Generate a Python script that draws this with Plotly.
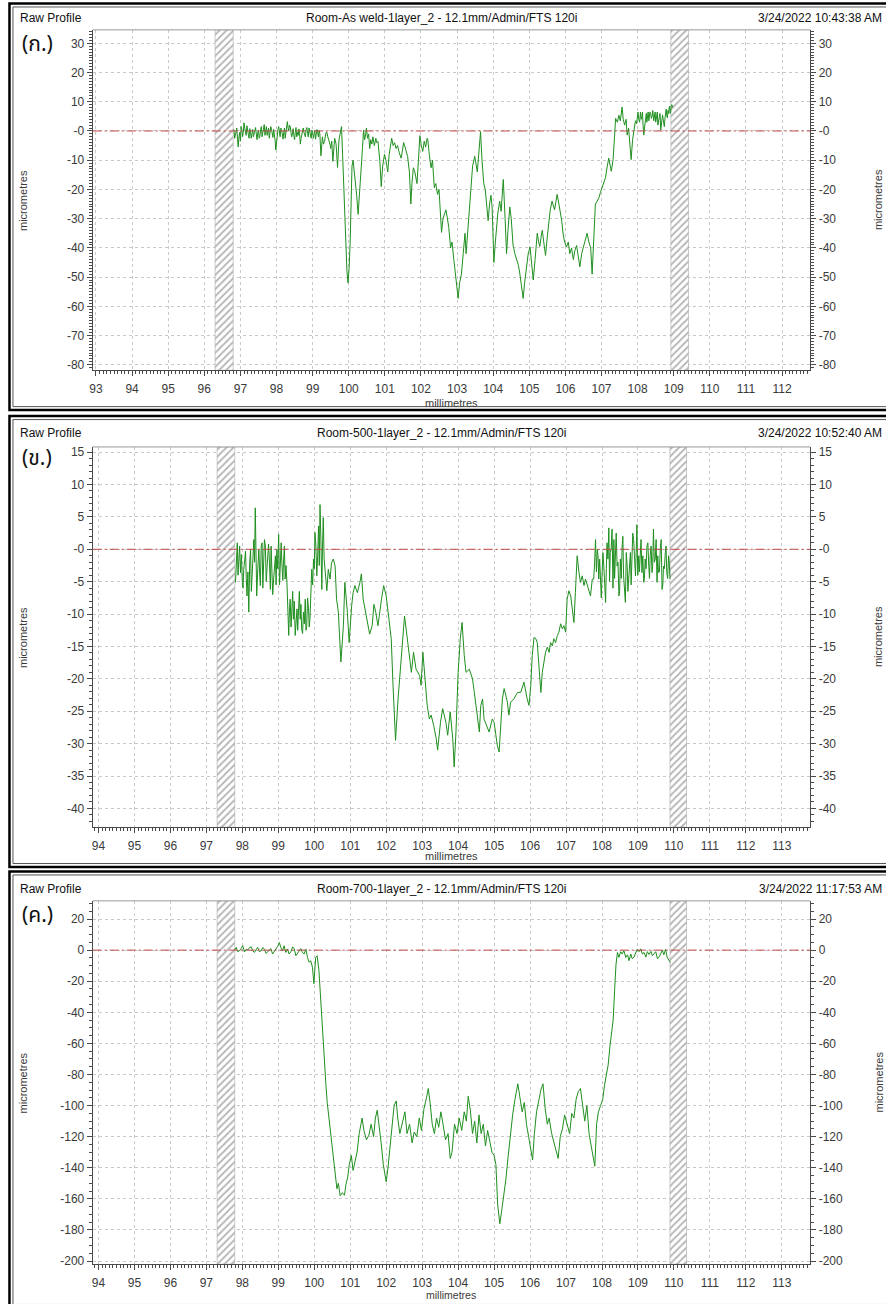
import plotly.graph_objects as go

W, H = 886, 1304

# ---------------- profile data: position (mm) and height (micrometres) ----------------
p1_x = [96.82, 96.86, 96.90, 96.94, 96.98, 97.02, 97.06, 97.10, 97.14, 97.18, 97.22, 97.26, 97.30, 97.34,
        97.38, 97.42, 97.46, 97.50, 97.54, 97.58, 97.62, 97.66, 97.70, 97.74, 97.78, 97.82, 97.86, 97.90,
        97.94, 97.98, 98.02, 98.06, 98.10, 98.14, 98.18, 98.22, 98.26, 98.30, 98.34, 98.38, 98.42, 98.46,
        98.50, 98.54, 98.58, 98.62, 98.66, 98.70, 98.74, 98.78, 98.82, 98.86, 98.90, 98.94, 98.98, 99.02,
        99.06, 99.10, 99.14, 99.18, 99.23, 99.27, 99.30, 99.33, 99.36, 99.39, 99.42, 99.45, 99.48, 99.50,
        99.53, 99.56, 99.61, 99.65, 99.69, 99.73, 99.76, 99.80, 99.83, 99.86, 99.89, 99.92, 99.95, 99.98,
        100.01, 100.04, 100.07, 100.09, 100.12, 100.15, 100.18, 100.22, 100.26, 100.30, 100.35, 100.38,
        100.41, 100.44, 100.47, 100.49, 100.52, 100.55, 100.58, 100.61, 100.64, 100.67, 100.71, 100.75,
        100.78, 100.81, 100.86, 100.90, 100.94, 100.99, 101.03, 101.08, 101.12, 101.16, 101.19, 101.23,
        101.27, 101.31, 101.35, 101.40, 101.45, 101.49, 101.52, 101.56, 101.60, 101.63, 101.68, 101.72,
        101.75, 101.79, 101.83, 101.86, 101.89, 101.93, 101.97, 102.01, 102.05, 102.09, 102.13, 102.17,
        102.19, 102.23, 102.28, 102.32, 102.37, 102.41, 102.46, 102.50, 102.54, 102.57, 102.61, 102.65,
        102.69, 102.73, 102.77, 102.82, 102.86, 102.91, 102.94, 102.98, 103.03, 103.07, 103.12, 103.17,
        103.22, 103.25, 103.30, 103.35, 103.39, 103.43, 103.49, 103.53, 103.56, 103.60, 103.65, 103.69,
        103.74, 103.78, 103.82, 103.86, 103.90, 103.94, 103.97, 104.02, 104.06, 104.09, 104.13, 104.18,
        104.22, 104.25, 104.28, 104.33, 104.37, 104.41, 104.46, 104.50, 104.55, 104.60, 104.65, 104.70,
        104.74, 104.79, 104.83, 104.87, 104.92, 104.97, 105.02, 105.06, 105.11, 105.16, 105.22, 105.26,
        105.29, 105.33, 105.36, 105.40, 105.45, 105.50, 105.54, 105.58, 105.63, 105.67, 105.70, 105.74,
        105.77, 105.82, 105.87, 105.90, 105.94, 105.98, 106.03, 106.08, 106.12, 106.17, 106.22, 106.26,
        106.31, 106.36, 106.40, 106.45, 106.49, 106.54, 106.60, 106.65, 106.70, 106.74, 106.78, 106.83,
        106.88, 106.93, 106.97, 107.02, 107.06, 107.11, 107.16, 107.20, 107.27, 107.32, 107.36, 107.39,
        107.44, 107.48, 107.52, 107.57, 107.60, 107.64, 107.68, 107.71, 107.75, 107.79, 107.82, 107.86,
        107.90, 107.94, 107.99, 108.03, 108.08, 108.12, 108.15, 108.17, 108.21, 108.24, 108.27, 108.31,
        108.34, 108.38, 108.42, 108.47, 108.50, 108.53, 108.56, 108.60, 108.64, 108.67, 108.71, 108.74,
        108.77, 108.81, 108.84, 108.87, 108.90, 108.93, 108.97]
p1_y = [0.5, -1.5, 1.0, -5.5, -0.5, 1.5, -2.0, 2.8, 0.0, 1.8, -1.2, 0.8, -2.5, 0.5,
        -1.0, 1.2, -3.0, 0.2, -1.8, 1.5, -0.8, 2.2, 0.4, -1.5, 1.0, -0.5, 0.8, -2.2,
        -1.0, -6.5, -1.0, 1.5, -2.0, 0.5, -2.8, 1.0, -0.6, 3.2, 0.0, 1.5, -2.0, 0.8,
        -3.0, 1.2, -0.5, 0.7, -4.5, -1.0, 1.0, -1.5, 0.5, -0.8, 1.0, -1.2, 0.3, -2.5,
        0.2, -1.5, -0.5, 0.2, -8.5, -2.0, -4.5, -3.6, -1.0, -0.3, -2.0, -3.0, -4.5, -6.0,
        -3.5, -10.4, -2.5, -4.5, -12.5, -3.0, -1.0, 1.5, -8.0, -20.0, -30.0, -38.0, -48.0, -52.0,
        -47.0, -38.0, -20.0, -12.0, -10.0, -13.0, -16.0, -22.0, -28.5, -22.0, -12.6, -6.0,
        0.3, -3.0, -1.0, 1.0, -2.5, -1.0, -6.0, -3.0, -4.5, -2.0, -5.0, -2.5,
        -4.0, -3.6, -10.0, -19.0, -12.0, -8.0, -10.0, -14.0, -8.0, -4.0, -2.5, -5.0,
        -4.0, -6.0, -5.0, -7.5, -9.3, -6.5, -4.0, -5.5, -7.0, -8.7, -14.0, -25.0,
        -18.0, -12.6, -14.0, -16.0, -18.0, -10.0, -1.6, -5.0, -7.0, -3.5, -5.5, -2.5,
        -3.0, -8.0, -12.6, -10.0, -19.4, -18.0, -21.7, -20.0, -28.0, -34.7, -30.0, -28.0,
        -27.0, -29.7, -33.0, -40.0, -38.0, -44.0, -48.0, -53.0, -57.3, -52.0, -49.0, -42.0,
        -35.0, -42.0, -34.0, -25.4, -18.0, -12.0, -8.7, -12.0, -14.0, -8.0, -0.2, -10.0,
        -18.0, -20.0, -26.0, -30.7, -25.0, -22.0, -26.0, -45.0, -38.0, -32.0, -28.0, -24.0,
        -27.5, -22.0, -16.6, -30.0, -42.0, -34.0, -26.0, -30.0, -39.0, -42.0, -44.0, -46.0,
        -49.0, -53.0, -57.3, -52.0, -46.5, -42.0, -39.7, -44.0, -51.0, -44.0, -35.0, -38.0,
        -39.5, -36.0, -34.0, -38.0, -42.6, -36.0, -30.7, -27.0, -24.0, -26.0, -27.0, -24.0,
        -21.7, -25.0, -28.5, -31.0, -35.6, -38.0, -39.7, -38.0, -42.0, -40.0, -44.0, -41.0,
        -39.2, -43.0, -46.5, -42.0, -40.0, -37.0, -35.0, -38.0, -40.0, -49.0, -38.0, -25.0,
        -24.0, -22.8, -21.0, -19.4, -18.0, -16.0, -12.0, -9.3, -13.8, -9.8, -2.0, 4.3,
        3.0, 5.4, 3.5, 8.2, 4.0, 2.0, 4.0, -1.4, 1.0, -4.7, -9.8, -3.0,
        0.9, 3.5, 5.4, 4.0, 6.5, 5.0, 2.0, -1.4, 3.0, 6.0, 5.4, 3.5,
        6.5, 4.3, 7.0, 6.0, 3.0, 5.5, 2.0, 4.5, 0.3, 2.5, 3.7, 1.5,
        6.5, 5.0, 7.0, 7.7, 6.0, 8.8, 8.0]
# additional fine-pitch samples on the flat and raised sections
p1_fine_x = [96.84, 96.88, 96.92, 96.96, 97.00, 97.04, 97.08, 97.12, 97.16, 97.20, 97.24, 97.28, 97.32,
             97.36, 97.40, 97.44, 97.48, 97.52, 97.56, 97.60, 97.64, 97.68, 97.72, 97.76, 97.80, 97.84,
             97.88, 97.92, 97.96, 98.00, 98.04, 98.08, 98.12, 98.16, 98.20, 98.24, 98.28, 98.32, 98.36,
             98.40, 98.44, 98.48, 98.52, 98.56, 98.60, 98.64, 98.68, 98.72, 98.76, 98.80, 98.84, 98.88,
             98.92, 98.96, 99.00, 99.04, 99.08, 99.12, 99.16, 99.20,
             107.92, 107.97, 108.01, 108.055, 108.10, 108.135, 108.19, 108.225, 108.255, 108.29, 108.325,
             108.36, 108.40, 108.445, 108.485, 108.515, 108.545, 108.58, 108.62, 108.655, 108.69, 108.725,
             108.755, 108.79, 108.825, 108.855, 108.885, 108.915, 108.95]
p1_fine_y = [-2.5, -0.5, -3.0, -2.0, -3.5, 0.5, -0.5, 1.0, -1.5, 0.8, -2.5, -0.5, -1.0,
             -2.0, 0.5, -1.0, -0.5, -2.5, 0.5, -2.0, 0.5, -1.5, 1.5, -0.5, -2.5, 1.5,
             -1.0, 0.5, -3.0, -3.5, 0.5, -1.0, 1.0, -1.0, -0.5, -2.5, 1.5, 1.0, 2.0,
             -0.5, -1.0, -1.5, -0.5, -2.0, -1.5, -1.0, -2.5, 0.5, -0.5, -2.0, 1.2, -2.0,
             -0.5, -2.5, -0.5, -1.0, -2.8, 0.5, -2.0, -1.0,
             1.5, 2.5, 6.5, 3.0, 4.0, 6.5, 1.0, 4.0, 3.0, 6.5, 4.5,
             6.0, 5.0, 3.5, 6.5, 4.0, 6.5, 3.0, 6.0, 2.0, 5.5, 2.5,
             4.0, 7.5, 4.5, 6.0, 8.5, 6.5, 9.0]

p2_x = [97.81, 97.86, 97.90, 97.95, 98.00, 98.04, 98.09, 98.13, 98.18, 98.23, 98.27, 98.32, 98.36, 98.40,
        98.46, 98.50, 98.55, 98.59, 98.64, 98.69, 98.73, 98.78, 98.82, 98.87, 98.92, 98.96, 99.01, 99.06,
        99.10, 99.15, 99.19, 99.24, 99.29, 99.33, 99.38, 99.42, 99.47, 99.52, 99.56, 99.61, 99.65, 99.70,
        99.75, 99.79, 99.84, 99.88, 99.93, 99.98, 100.02, 100.07, 100.12, 100.16, 100.21, 100.25, 100.30,
        100.35, 100.39, 100.44, 100.48, 100.53, 100.58, 100.62, 100.67, 100.71, 100.74, 100.81, 100.85,
        100.92, 100.97, 101.04, 101.08, 101.13, 101.20, 101.27, 101.31, 101.36, 101.41, 101.48, 101.54,
        101.61, 101.66, 101.71, 101.77, 101.87, 101.93, 102.00, 102.05, 102.10, 102.14, 102.19, 102.24,
        102.26, 102.33, 102.42, 102.51, 102.60, 102.70, 102.76, 102.83, 102.93, 102.97, 103.02, 103.06,
        103.14, 103.20, 103.25, 103.32, 103.39, 103.43, 103.51, 103.57, 103.66, 103.71, 103.78, 103.85,
        103.89, 103.94, 104.00, 104.06, 104.11, 104.17, 104.22, 104.31, 104.40, 104.45, 104.54, 104.59,
        104.63, 104.68, 104.72, 104.82, 104.86, 104.95, 105.00, 105.05, 105.09, 105.14, 105.18, 105.23,
        105.28, 105.37, 105.41, 105.46, 105.55, 105.65, 105.74, 105.83, 105.92, 105.97, 106.02, 106.06,
        106.11, 106.16, 106.20, 106.25, 106.30, 106.34, 106.39, 106.43, 106.48, 106.53, 106.57, 106.62,
        106.66, 106.71, 106.76, 106.80, 106.85, 106.90, 106.94, 106.99, 107.03, 107.08, 107.13, 107.17,
        107.22, 107.26, 107.31, 107.36, 107.40, 107.45, 107.50, 107.54, 107.59, 107.63, 107.68, 107.73,
        107.77, 107.82, 107.87, 107.91, 107.96, 108.00, 108.05, 108.10, 108.14, 108.19, 108.23, 108.28,
        108.33, 108.37, 108.42, 108.47, 108.51, 108.56, 108.60, 108.65, 108.70, 108.74, 108.79, 108.83,
        108.88, 108.93, 108.97, 109.02, 109.06, 109.11, 109.16, 109.20, 109.25, 109.30, 109.34, 109.39,
        109.43, 109.48, 109.53, 109.57, 109.62, 109.67, 109.71, 109.76, 109.80, 109.85, 109.89]
p2_y = [-5.1, 1.0, -2.6, -3.6, -5.1, -3.1, -0.3, -7.2, -9.7, 0.0, -3.1, 1.5, 6.4, -7.2,
        0.0, -5.6, 1.0, -3.6, 0.5, -2.6, 0.8, -6.2, -3.6, -4.6, -1.0, 0.0, 2.3, -1.0,
        -2.1, -1.5, -4.6, -5.1, -13.3, -7.7, -8.7, -10.8, -13.3, -9.2, -7.9, -10.8, -12.3, -9.7,
        -7.7, -11.8, -9.2, -10.8, -3.1, -1.5, 2.6, -4.1, 3.6, 6.9, -6.2, 4.9, -3.6,
        -6.4, -3.1, -4.6, -2.1, -1.5, -2.6, -7.7, -9.7, -13.8, -17.4, -11.8, -5.1,
        -9.7, -14.4, -8.7, -6.7, -5.6, -6.7, -5.1, -3.8, -7.7, -9.2, -10.8, -13.1,
        -11.8, -8.5, -9.7, -11.8, -7.7, -5.6, -7.2, -9.7, -11.8, -13.8, -21.0, -26.7,
        -29.5, -23.1, -15.9, -10.3, -14.4, -19.0, -15.9, -18.5, -19.5, -21.0, -15.9, -19.0,
        -24.1, -26.2, -25.6, -27.2, -29.2, -31.0, -26.7, -24.6, -26.7, -28.7, -25.1, -29.2,
        -33.6, -28.2, -19.0, -13.8, -11.3, -16.4, -19.0, -18.5, -20.0, -22.1, -25.6, -28.2,
        -24.1, -23.1, -26.2, -27.7, -28.2, -26.2, -26.7, -28.7, -30.3, -31.3, -28.2, -23.1,
        -21.5, -23.6, -25.6, -23.6, -23.1, -22.1, -22.1, -20.5, -23.1, -24.1, -21.0, -16.4,
        -13.6, -13.8, -14.4, -19.0, -22.1, -19.0, -16.9, -15.9, -15.1, -15.9, -14.4, -14.9,
        -13.8, -14.4, -13.3, -12.8, -11.5, -12.3, -11.8, -12.8, -7.7, -6.4, -7.2, -8.7,
        -11.3, -6.7, -1.0, -3.6, -5.1, -4.1, -5.6, -4.6, -5.6, -6.2, -7.2, -4.6,
        -4.6, 1.5, 0.0, -4.6, -6.2, -4.1, -2.6, -8.2, 1.0, 3.3, -0.5, 3.1,
        1.5, 1.0, -2.6, -7.2, -1.5, 0.5, -4.1, -8.2, -2.6, -4.6, -0.5, -1.5,
        1.5, -4.1, 3.8, -1.0, 0.5, -3.6, -5.1, -1.5, 0.5, -2.6, -1.0, -3.6,
        3.1, -1.5, -5.1, -3.6, 0.0, -6.2, -2.6, -0.5, -3.6, -1.0, -4.6]
p2_fine_x = [97.835, 97.88, 97.925, 97.975, 98.02, 98.065, 98.11, 98.155, 98.205, 98.25, 98.295, 98.34,
             98.38, 98.43, 98.48, 98.525, 98.57, 98.615, 98.665, 98.71, 98.755, 98.80, 98.845, 98.895,
             98.94, 98.985, 99.035, 99.08, 99.125, 99.17, 99.215, 99.265, 99.31, 99.355, 99.40, 99.445,
             99.495, 99.54, 99.585, 99.63, 99.675, 99.725, 99.77, 99.815, 99.86, 99.905, 99.955, 100.00,
             100.045, 100.095, 100.14, 100.185, 100.23, 100.275,
             107.795, 107.845, 107.89, 107.935, 107.98, 108.025, 108.075, 108.12, 108.165, 108.21, 108.255,
             108.305, 108.35, 108.395, 108.445, 108.49, 108.535, 108.58, 108.625, 108.675, 108.72, 108.765,
             108.81, 108.855, 108.905, 108.95, 108.995, 109.04, 109.085, 109.135, 109.18, 109.225, 109.275,
             109.32, 109.365, 109.41, 109.455, 109.505, 109.55, 109.595, 109.645, 109.69, 109.735, 109.78,
             109.825, 109.87]
p2_fine_y = [-1.0, -4.0, 0.5, -0.8, -6.0, -1.5, -4.5, -3.5, -2.0, -6.5, -1.5, -2.0,
             0.5, -3.0, -3.5, 0.5, -6.0, 1.5, -5.0, -1.0, -2.0, 0.5, -7.0, -3.0,
             -5.5, -3.0, -5.5, 1.0, -4.8, 0.5, -2.5, -8.0, -9.5, -12.0, -6.5, -8.0,
             -11.5, -12.5, -6.5, -8.5, -13.0, -11.5, -12.5, -7.5, -12.0, -6.0, -5.5, -3.0,
             0.5, -1.0, -2.5, 1.5, 0.5, -1.5,
             -2.0, -3.5, -1.0, -1.5, -7.5, -0.5, -5.5, -3.0, -1.5, -5.0, 0.0,
             -6.0, -4.5, 2.5, -2.0, -6.5, -4.5, 2.0, -6.0, -0.5, -6.5, -2.5,
             -5.5, 2.5, -1.0, -0.5, -4.0, -3.5, 1.5, -1.0, -4.5, -3.0, 1.0,
             -4.5, 0.5, -2.5, -2.0, 1.5, -1.0, -3.5, 1.5, -5.5, -3.0, 0.5,
             -4.5, -2.0]

p3_x = [97.78, 97.83, 97.92, 98.01, 98.11, 98.20, 98.29, 98.38, 98.47, 98.57, 98.66, 98.75, 98.84, 98.94,
        99.03, 99.07, 99.12, 99.16, 99.21, 99.30, 99.40, 99.49, 99.58, 99.67, 99.77, 99.81, 99.86, 99.90,
        99.95, 99.99, 100.04, 100.08, 100.13, 100.18, 100.23, 100.27, 100.32, 100.36, 100.41, 100.46,
        100.49, 100.53, 100.59, 100.63, 100.67, 100.72, 100.78, 100.84, 100.88, 100.93, 100.97, 101.03,
        101.08, 101.13, 101.19, 101.25, 101.30, 101.33, 101.38, 101.45, 101.52, 101.58, 101.65, 101.70,
        101.75, 101.80, 101.86, 101.92, 101.97, 102.00, 102.05, 102.10, 102.16, 102.22, 102.28, 102.32,
        102.38, 102.45, 102.52, 102.58, 102.65, 102.72, 102.78, 102.85, 102.92, 102.98, 103.05, 103.12,
        103.17, 103.22, 103.28, 103.34, 103.40, 103.46, 103.52, 103.58, 103.65, 103.72, 103.78, 103.83,
        103.90, 103.97, 104.03, 104.10, 104.17, 104.23, 104.28, 104.34, 104.40, 104.46, 104.52, 104.58,
        104.64, 104.70, 104.76, 104.82, 104.88, 104.94, 105.00, 105.05, 105.10, 105.16, 105.22, 105.27,
        105.33, 105.38, 105.45, 105.52, 105.58, 105.66, 105.72, 105.78, 105.84, 105.90, 105.96, 106.02,
        106.07, 106.12, 106.18, 106.25, 106.30, 106.36, 106.42, 106.48, 106.53, 106.60, 106.66, 106.72,
        106.78, 106.84, 106.90, 106.96, 107.03, 107.10, 107.16, 107.22, 107.28, 107.34, 107.40, 107.46,
        107.52, 107.58, 107.64, 107.70, 107.76, 107.80, 107.85, 107.90, 107.96, 108.02, 108.07, 108.12,
        108.17, 108.22, 108.26, 108.31, 108.35, 108.39, 108.43, 108.47, 108.52, 108.56, 108.61, 108.66,
        108.71, 108.75, 108.80, 108.84, 108.89, 108.94, 108.98, 109.03, 109.08, 109.12, 109.17, 109.22,
        109.26, 109.31, 109.36, 109.40, 109.45, 109.54, 109.63, 109.72, 109.77, 109.81, 109.86, 109.90]
p3_y = [0.0, 1.7, -0.4, 2.8, 0.6, 1.7, -0.4, 0.6, -0.9, 1.7, -2.1, -0.4, -2.5, 1.7,
        4.9, 1.7, -0.4, 2.8, -1.5, -2.5, 2.1, -3.6, -0.4, -1.5, 0.6, -4.7, -7.8, -6.8,
        -11.0, -21.6, -4.7, -3.6, -13.0, -34.0, -55.0, -72.0, -85.0, -98.0, -108.0, -117.0,
        -126.0, -134.0, -147.0, -153.5, -150.0, -158.0, -156.0, -157.7, -151.0, -146.0, -138.5, -132.0,
        -141.7, -136.0, -130.0, -118.0, -112.0, -108.0, -116.0, -122.0, -119.0, -112.0, -120.0, -108.0,
        -103.0, -112.0, -124.0, -138.0, -145.0, -149.0, -140.0, -128.0, -112.0, -100.0, -97.0, -108.0,
        -118.0, -110.0, -104.0, -118.0, -112.0, -124.0, -117.0, -120.0, -108.0, -116.0, -102.0, -95.0,
        -89.0, -98.0, -112.0, -118.0, -108.0, -114.0, -104.0, -112.0, -122.0, -118.0, -134.0, -130.0,
        -112.0, -118.0, -108.0, -116.0, -104.0, -110.0, -94.0, -103.0, -118.0, -110.0, -124.0, -106.0,
        -118.0, -112.0, -126.0, -116.0, -124.0, -130.0, -132.0, -138.0, -164.0, -176.0, -166.0, -158.0,
        -147.0, -135.0, -118.0, -105.0, -96.0, -86.0, -95.0, -104.0, -98.0, -112.0, -120.0, -128.0,
        -135.0, -118.0, -104.0, -96.0, -90.0, -86.0, -102.0, -112.0, -108.0, -118.0, -124.0, -130.0,
        -134.0, -120.0, -115.0, -106.0, -112.0, -118.0, -105.0, -108.0, -96.0, -91.0, -89.0, -98.0,
        -110.0, -100.0, -118.0, -126.0, -134.0, -139.0, -112.0, -104.0, -100.0, -96.0, -87.0, -80.0,
        -74.0, -62.0, -55.0, -45.0, -26.0, -9.0, -1.5, -4.7, -1.0, -2.5, -0.4, -4.7,
        -3.0, -6.8, -2.5, -5.5, -4.5, -1.5, 0.6, -1.0, 0.8, -2.5, -1.5, -4.5,
        -1.0, -2.8, -0.8, -3.6, -2.5, -5.5, -2.5, -3.0, 0.5, -4.5, -6.5, -8.0]
p3_fine_x = [97.87, 97.965, 98.06, 98.155, 98.245, 98.335, 98.425, 98.52, 98.615, 98.705, 98.795,
             98.89, 98.985, 99.255, 99.35, 99.445, 99.535, 99.625, 99.72,
             109.495, 109.585, 109.675]
p3_fine_y = [-1.0, 1.0, -1.2, 0.2, 2.2, -1.5, 1.8, -0.5, 0.5, -1.0, 1.0,
             -0.8, 2.5, 0.8, -1.0, 0.8, -2.0, 1.0, -2.5,
             -1.0, -4.5, 0.0]

# ---------------- panel descriptions ----------------
tags = ["(ก.)", "(ข.)", "(ค.)"]
titles = ["Room-As weld-1layer_2 - 12.1mm/Admin/FTS 120i",
          "Room-500-1layer_2 - 12.1mm/Admin/FTS 120i",
          "Room-700-1layer_2 - 12.1mm/Admin/FTS 120i"]
stamps = ["3/24/2022 10:43:38 AM", "3/24/2022 10:52:40 AM", "3/24/2022 11:17:53 AM"]
x_ranges = [[92.91, 112.78], [93.84, 113.79], [93.84, 113.79]]
y_ranges = [[-81.9, 34.6], [-42.9, 15.8], [-202.0, 31.7]]
x_ticks = [list(range(93, 113)), list(range(94, 114)), list(range(94, 114))]
y_ticks = [list(range(30, -81, -10)), list(range(15, -41, -5)), list(range(20, -201, -20))]
zero_text = ["-0", "-0", "0"]
y_minor = [1, 1, 5]
# hatched exclusion bands (mm)
bands = [[[96.30, 96.80], [108.92, 109.41]],
         [[97.30, 97.79], [109.89, 110.35]],
         [[97.30, 97.79], [109.89, 110.35]]]


def merge(xa, ya, xb, yb):
    pts = sorted(zip(list(xa) + list(xb), list(ya) + list(yb)))
    return [p[0] for p in pts], [p[1] for p in pts]


profiles = [merge(p1_x, p1_y, p1_fine_x, p1_fine_y),
            merge(p2_x, p2_y, p2_fine_x, p2_fine_y),
            merge(p3_x, p3_y, p3_fine_x, p3_fine_y)]

# ---------------- pixel layout of each panel ----------------
plot_left, plot_right = 90, 810
plot_tops = [28, 447, 903]
plot_bottoms = [370, 829, 1268]
header_y = [16, 433, 891]
tag_y = [43, 459, 918]
xlabel_y = [403, 858, 1298.5]
xlabel_size = [11, 11, 10.5]
frame_tops = [1.5, 416, 873.5]
frame_bottoms = [410, 869, 1312]

AX = "#4a4a4a"
GRID = "#c9c9c9"
TICKFONT = dict(family="Liberation Sans Narrow, Arial Narrow, Liberation Sans, Arial", size=12, color="#3a3a3a")
TEXTFONT = dict(family="Liberation Sans, Arial, sans-serif", size=12, color="#111111")
SMALLFONT = dict(family=TICKFONT["family"], size=11, color="#3a3a3a")


def fx(p):
    return p / W


def fy(p):
    return 1 - p / H


def fmt(v, zt):
    if v == 0:
        return zt
    return str(v)


fig = go.Figure()
layout = dict(width=W, height=H, margin=dict(l=0, r=0, t=0, b=0),
              paper_bgcolor="white", plot_bgcolor="white", showlegend=False)
shapes = []
annotations = []

for i in range(3):
    n = i + 1
    xa = "x" if n == 1 else f"x{n}"
    ya = "y" if n == 1 else f"y{n}"
    yr = f"y{n + 3}"
    x0, x1 = x_ranges[i]
    ylo, yhi = y_ranges[i]

    # hatched bands spanning the whole height of the plot
    for b0, b1 in bands[i]:
        fig.add_trace(go.Scatter(
            x=[b0, b1, b1, b0, b0], y=[ylo, ylo, yhi, yhi, ylo],
            xaxis=xa, yaxis=ya, mode="lines", fill="toself",
            line=dict(width=0.6, color="#a8a8a8"),
            fillcolor="white",
            fillpattern=dict(shape="/", fgcolor="#6a6a6a", bgcolor="white", size=5, solidity=0.35),
            hoverinfo="skip"))

    # measured profile
    px_, py_ = profiles[i]
    fig.add_trace(go.Scatter(x=px_, y=py_, xaxis=xa, yaxis=ya, mode="lines",
                             line=dict(color="#1f8f1f", width=1)))
    # mirrored right-hand axis
    fig.add_trace(go.Scatter(x=[None], y=[None], xaxis=xa, yaxis=yr, mode="lines",
                             hoverinfo="skip"))

    dom_x = [fx(plot_left), fx(plot_right)]
    dom_y = [fy(plot_bottoms[i]), fy(plot_tops[i])]
    ytext = [fmt(v, zero_text[i]) for v in y_ticks[i]]

    layout["xaxis" if n == 1 else f"xaxis{n}"] = dict(
        domain=dom_x, anchor=ya, range=[x0, x1],
        tickmode="array", tickvals=x_ticks[i], ticktext=[str(v) for v in x_ticks[i]],
        ticks="outside", ticklen=5, tickcolor=AX, tickfont=TICKFONT, ticklabelstandoff=2,
        showline=True, linecolor=AX, linewidth=1, zeroline=False,
        showgrid=True, gridcolor=GRID, griddash="3px,3px", gridwidth=1,
        minor=dict(tickmode="linear", tick0=0, dtick=0.1, ticks="outside", ticklen=3,
                   tickcolor=AX, showgrid=False))
    yleft = dict(
        domain=dom_y, anchor=xa, range=[ylo, yhi],
        tickmode="array", tickvals=y_ticks[i], ticktext=ytext,
        ticks="outside", ticklen=5, tickcolor=AX, tickfont=TICKFONT,
        showline=True, linecolor=AX, linewidth=1, zeroline=False,
        showgrid=True, gridcolor=GRID, griddash="3px,3px", gridwidth=1,
        minor=dict(tickmode="linear", tick0=0, dtick=y_minor[i], ticks="outside", ticklen=3,
                   tickcolor=AX, showgrid=False))
    layout["yaxis" if n == 1 else f"yaxis{n}"] = yleft
    layout[f"yaxis{n + 3}"] = dict(
        overlaying=ya, anchor=xa, side="right", range=[ylo, yhi],
        tickmode="array", tickvals=y_ticks[i], ticktext=ytext,
        ticks="outside", ticklen=5, tickcolor=AX, tickfont=TICKFONT,
        showline=True, linecolor=AX, linewidth=1, zeroline=False, showgrid=False,
        minor=dict(tickmode="linear", tick0=0, dtick=y_minor[i], ticks="outside", ticklen=3,
                   tickcolor=AX, showgrid=False))

    # plot box top edge
    shapes.append(dict(type="line", xref="paper", yref="paper",
                       x0=dom_x[0], x1=dom_x[1], y0=dom_y[1], y1=dom_y[1],
                       line=dict(color="#9a9a9a", width=1)))
    # red dash-dot reference line at zero
    shapes.append(dict(type="line", xref="paper", yref=ya, x0=dom_x[0], x1=dom_x[1], y0=0, y1=0,
                       layer="above", line=dict(color="#c04848", width=1, dash="9px,3px,2px,3px")))
    # panel frame: heavy outer border and thin inner border
    shapes.append(dict(type="rect", xref="paper", yref="paper",
                       x0=fx(6.5), x1=fx(900), y0=fy(frame_bottoms[i]), y1=fy(frame_tops[i]),
                       line=dict(color="black", width=2.5)))
    shapes.append(dict(type="rect", xref="paper", yref="paper",
                       x0=fx(10), x1=fx(900), y0=fy(frame_bottoms[i] - 3.5), y1=fy(frame_tops[i] + 3.5),
                       line=dict(color="#555555", width=1)))

    # header texts
    annotations.append(dict(text="Raw Profile", xref="paper", yref="paper", x=fx(15), y=fy(header_y[i]),
                            xanchor="left", yanchor="middle", showarrow=False, font=TEXTFONT))
    annotations.append(dict(text=titles[i], xref="paper", yref="paper", x=fx(440), y=fy(header_y[i]),
                            xanchor="center", yanchor="middle", showarrow=False, font=TEXTFONT))
    annotations.append(dict(text=stamps[i], xref="paper", yref="paper", x=fx(884), y=fy(header_y[i]),
                            xanchor="right", yanchor="middle", showarrow=False, font=TEXTFONT))
    annotations.append(dict(text=tags[i], xref="paper", yref="paper", x=fx(17), y=fy(tag_y[i]),
                            xanchor="left", yanchor="middle", showarrow=False,
                            font=dict(family="Tahoma, Noto Sans Thai, Noto Sans, DejaVu Sans, sans-serif",
                                      size=21, color="#111111")))
    # axis titles
    annotations.append(dict(text="millimetres", xref="paper", yref="paper", x=fx(450), y=fy(xlabel_y[i]),
                            xanchor="center", yanchor="middle", showarrow=False,
                            font=dict(SMALLFONT, size=xlabel_size[i])))
    mid = (plot_tops[i] + plot_bottoms[i]) / 2
    for xpos in (20, 878):
        annotations.append(dict(text="micrometres", xref="paper", yref="paper", x=fx(xpos), y=fy(mid),
                                xanchor="center", yanchor="middle", textangle=-90, showarrow=False,
                                font=SMALLFONT))

layout["shapes"] = shapes
layout["annotations"] = annotations
fig.update_layout(**layout)
fig.write_html("out.html")
